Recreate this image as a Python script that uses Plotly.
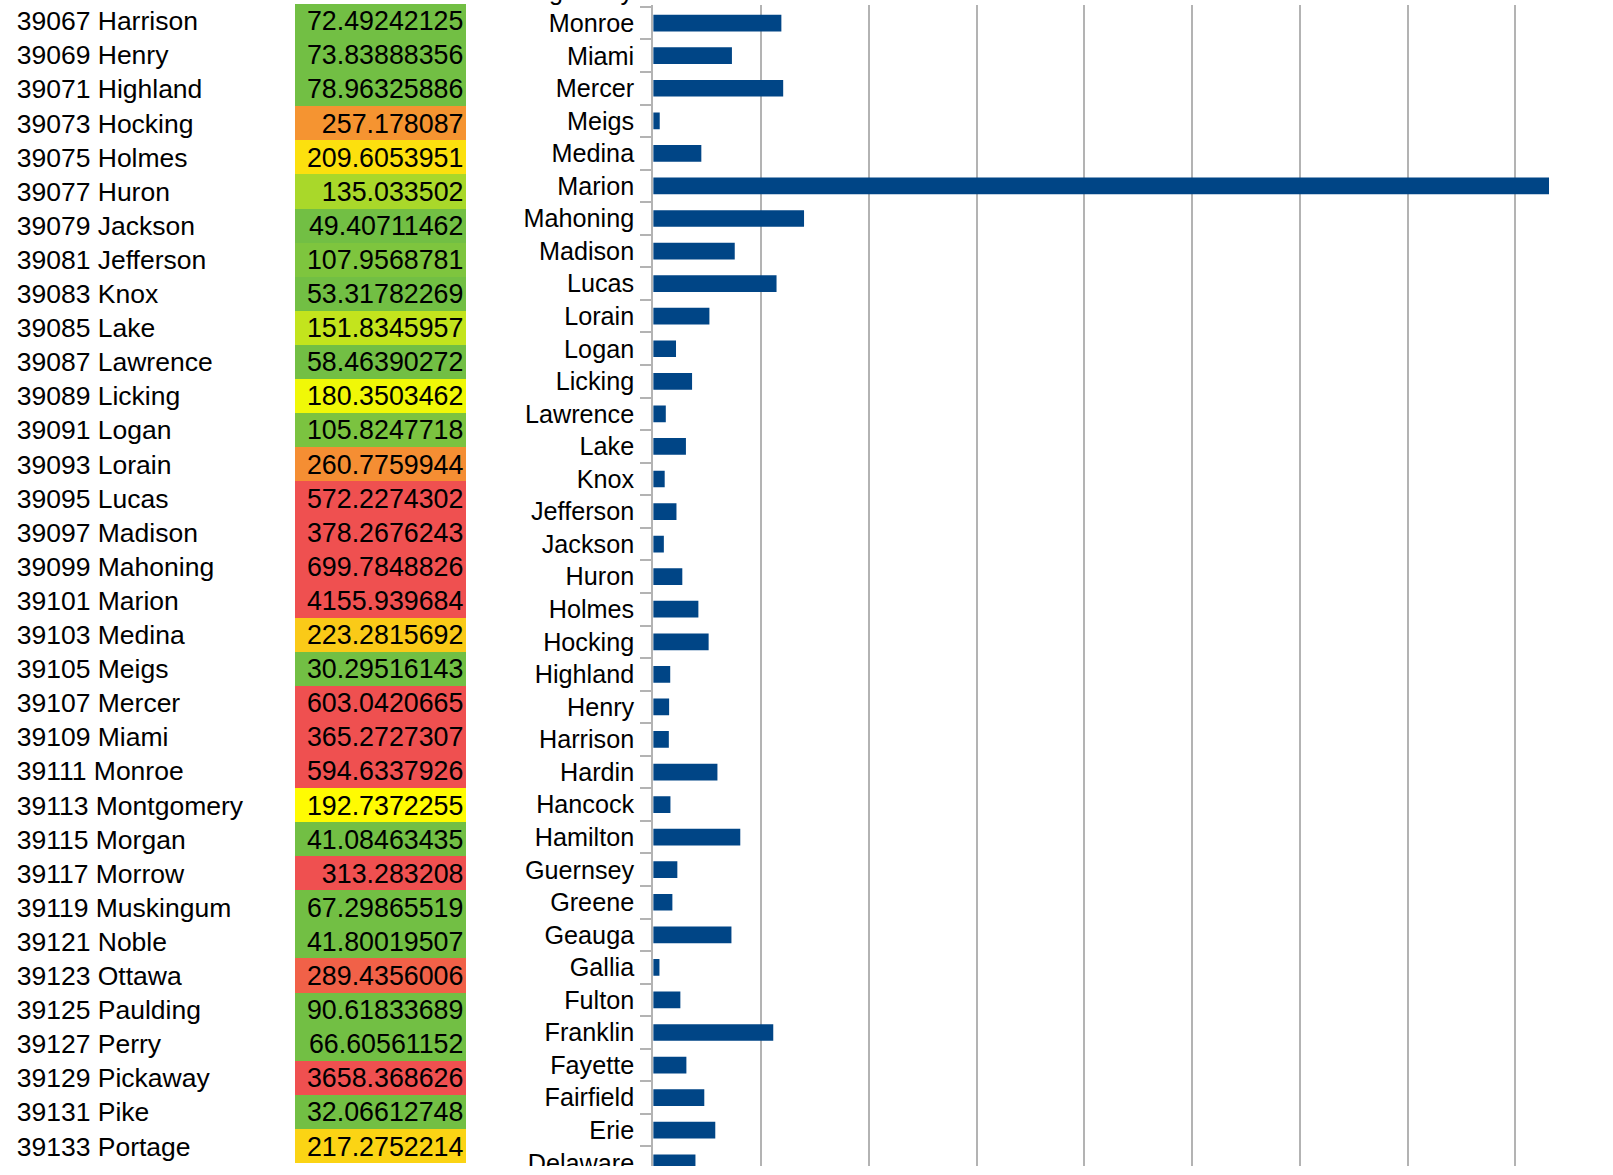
import plotly.graph_objects as go

# ---- data -----------------------------------------------------------------
fips = [39067, 39069, 39071, 39073, 39075, 39077, 39079, 39081, 39083, 39085,
        39087, 39089, 39091, 39093, 39095, 39097, 39099, 39101, 39103, 39105,
        39107, 39109, 39111, 39113, 39115, 39117, 39119, 39121, 39123, 39125,
        39127, 39129, 39131, 39133]
counties = ["Harrison", "Henry", "Highland", "Hocking", "Holmes", "Huron",
            "Jackson", "Jefferson", "Knox", "Lake", "Lawrence", "Licking",
            "Logan", "Lorain", "Lucas", "Madison", "Mahoning", "Marion",
            "Medina", "Meigs", "Mercer", "Miami", "Monroe", "Montgomery",
            "Morgan", "Morrow", "Muskingum", "Noble", "Ottawa", "Paulding",
            "Perry", "Pickaway", "Pike", "Portage"]
values = [72.49242125, 73.83888356, 78.96325886, 257.178087, 209.6053951,
          135.033502, 49.40711462, 107.9568781, 53.31782269, 151.8345957,
          58.46390272, 180.3503462, 105.8247718, 260.7759944, 572.2274302,
          378.2676243, 699.7848826, 4155.939684, 223.2815692, 30.29516143,
          603.0420665, 365.2727307, 594.6337926, 192.7372255, 41.08463435,
          313.283208, 67.29865519, 41.80019507, 289.4356006, 90.61833689,
          66.60561152, 3658.368626, 32.06612748, 217.2752214]

# counties earlier in the alphabet, shown only in the bar chart
early_counties = ["Delaware", "Erie", "Fairfield", "Fayette", "Franklin",
                  "Fulton", "Gallia", "Geauga", "Greene", "Guernsey",
                  "Hamilton", "Hancock", "Hardin"]
early_values = [196, 288, 237, 154, 557, 126, 29, 363, 89, 112, 404, 80, 298]

# ---- geometry (page pixels) ---------------------------------------------
W, H = 1613, 1175
FONT = "Liberation Sans"


def fx(p):
    return p / W


def fy(p):
    return 1 - p / H


n_rows = len(values)
row_top, row_h = 4, 34.1
table_dom_y = [fy(row_top + n_rows * row_h), fy(row_top)]
label_dom_x = [0, fx(295)]
cell_dom_x = [fx(295), fx(466)]
text_drop = 0.075          # cell text sits slightly below the row centre

bar_left = 653.2
px_per_unit = 0.21555
cat_px = 32.56
bar_dom_x = [fx(bar_left), 1.0]
bar_dom_y = [fy(1166), fy(5)]
x_max = (W - bar_left) / px_per_unit
y_lo = -0.1
y_hi = y_lo + (1166 - 5) / cat_px

rows = list(range(n_rows))
text_rows = [r + text_drop for r in rows]
labels = [f"{f} {c}" for f, c in zip(fips, counties)]
value_text = [f"{v:.10g}" for v in values]

bar_cats = early_counties + counties
bar_vals = early_values + values

fig = go.Figure()

# spreadsheet-style value column, coloured by a green-yellow-red scale
fig.add_trace(go.Heatmap(
    z=[[v] for v in values], x=[0], y=rows,
    zmin=100, zmax=300,
    colorscale=[[0, "#72bf44"], [0.45, "#ffff00"], [1, "#ef5050"]],
    showscale=False, hoverinfo="skip",
    xaxis="x2", yaxis="y2",
))
fig.add_trace(go.Scatter(
    x=[0.485] * n_rows, y=text_rows, text=value_text, mode="text",
    textposition="middle left",
    textfont=dict(family=FONT, size=26.8, color="#000000"),
    hoverinfo="skip", xaxis="x2", yaxis="y2",
))
# FIPS code + county name column
fig.add_trace(go.Scatter(
    x=[0.0566] * n_rows, y=text_rows, text=labels, mode="text",
    textposition="middle right",
    textfont=dict(family=FONT, size=26.5, color="#000000"),
    hoverinfo="skip", xaxis="x3", yaxis="y3",
))

# horizontal bar chart
fig.add_trace(go.Bar(
    x=bar_vals, y=bar_cats, orientation="h",
    marker=dict(color="#004586", line=dict(width=0)),
    hoverinfo="x+y", xaxis="x", yaxis="y",
))

hidden = dict(visible=False, fixedrange=True, automargin=False)
fig.update_layout(
    width=W, height=H,
    margin=dict(l=0, r=0, t=0, b=0, autoexpand=False),
    paper_bgcolor="#ffffff", plot_bgcolor="#ffffff",
    showlegend=False, bargap=0.487,
    font=dict(family=FONT, color="#000000"),
    xaxis=dict(domain=bar_dom_x, range=[0, x_max], dtick=500, tick0=0,
               showgrid=True, gridcolor="#b3b3b3", gridwidth=1.5,
               zeroline=False, showticklabels=False, ticks="",
               automargin=False, anchor="y"),
    yaxis=dict(domain=bar_dom_y, range=[y_lo, y_hi], type="category",
               categoryorder="array", categoryarray=bar_cats,
               showline=True, linecolor="#b3b3b3", linewidth=2,
               ticks="outside", tickson="boundaries", ticklen=11,
               tickcolor="#b3b3b3", tickwidth=1.5,
               ticklabelstandoff=12,
               tickfont=dict(family=FONT, size=25.2, color="#000000"),
               showgrid=False, zeroline=False, automargin=False,
               anchor="x"),
    xaxis2=dict(domain=cell_dom_x, range=[-0.5, 0.5], anchor="y2", **hidden),
    yaxis2=dict(domain=table_dom_y, range=[n_rows - 0.5, -0.5], anchor="x2",
                **hidden),
    xaxis3=dict(domain=label_dom_x, range=[0, 1], anchor="y3", **hidden),
    yaxis3=dict(domain=table_dom_y, range=[n_rows - 0.5, -0.5], anchor="x3",
                **hidden),
)

# category label just above the visible window (cut by the page edge)
next_idx = bar_cats.index("Monroe") + 1
next_y = bar_dom_y[0] + (next_idx - y_lo) / (y_hi - y_lo) * (bar_dom_y[1] - bar_dom_y[0])
fig.add_annotation(
    x=fx(634), y=next_y, xref="paper", yref="paper",
    xanchor="right", yanchor="middle", showarrow=False,
    text=bar_cats[next_idx], borderpad=0,
    font=dict(family=FONT, size=25.2, color="#000000"),
)

# the view ends a little above the page bottom
fig.add_shape(type="rect", xref="paper", yref="paper",
              x0=0, x1=1, y0=0, y1=fy(1166), layer="above",
              fillcolor="#ffffff", line=dict(width=0))

fig.write_html("out.html", config={"displayModeBar": False})
